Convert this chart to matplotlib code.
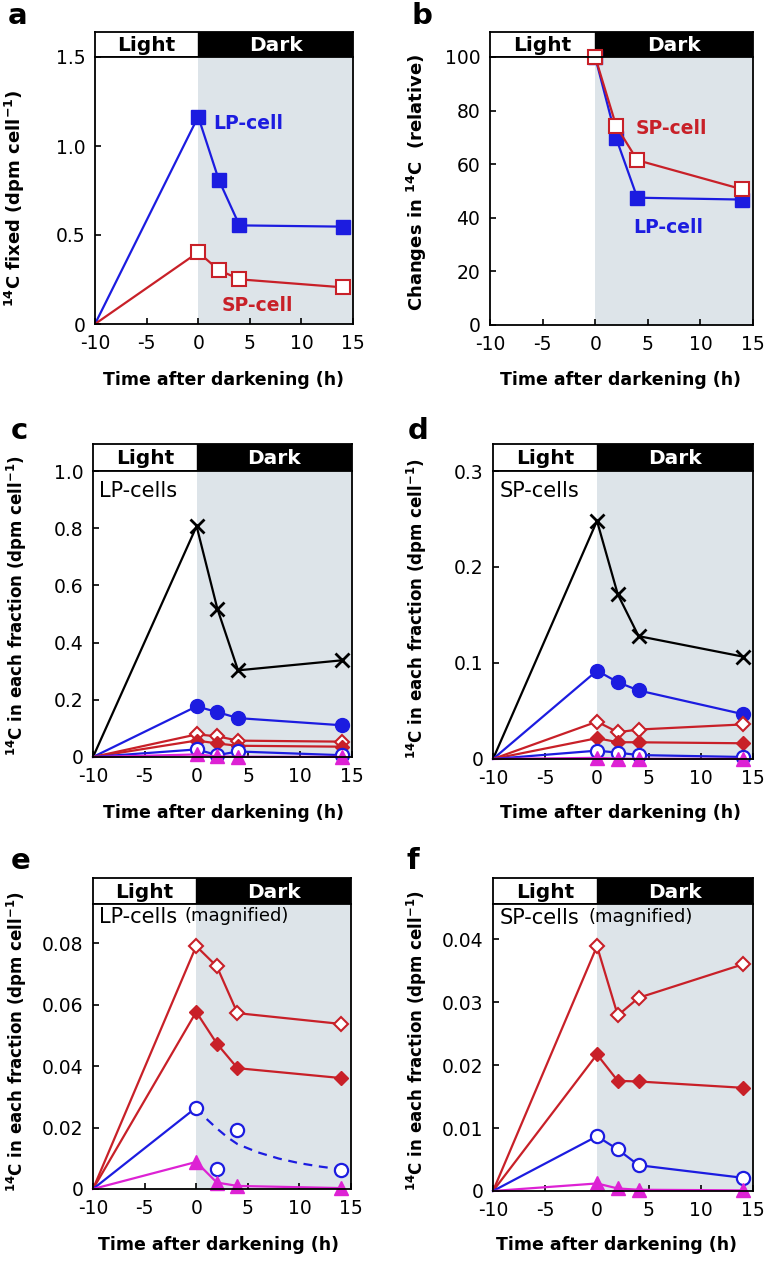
import matplotlib.pyplot as plt

plt.rcParams['font.family'] = ['DejaVu Sans']
plt.rcParams['mathtext.fontset'] = 'dejavusans'
plt.rcParams['axes.unicode_minus'] = False

W, H = 780, 1262

time_h = [-10, 0, 2, 4, 14]
time_rel = [0, 2, 4, 14]

# a: 14C fixed
fixed_lp = [0, 1.165, 0.809, 0.554, 0.547]
fixed_sp = [0, 0.403, 0.303, 0.251, 0.206]

# b: relative change
rel_lp = [100, 69.6, 47.5, 46.8]
rel_sp = [100, 74.2, 61.5, 50.6]

# c / e: LP-cells fractions
lp_cross = [0, 0.807, 0.519, 0.303, 0.338]
lp_fill_circle = [0, 0.177, 0.157, 0.136, 0.111]
lp_open_diamond = [0, 0.079, 0.0724, 0.0572, 0.0537]
lp_fill_diamond = [0, 0.0576, 0.0473, 0.0393, 0.0361]
lp_open_circle = [0, 0.0265, 0.0066, 0.0193, 0.0063]
lp_triangle = [0, 0.0088, 0.0021, 0.0010, 0.0003]
lp_fit_x = [0, 1, 2, 3, 4, 6, 8, 10, 12, 14]
lp_fit_y = [0.0265, 0.0228, 0.0197, 0.0169, 0.0146, 0.0119, 0.0099, 0.0084, 0.0073, 0.0064]

# d / f: SP-cells fractions
sp_cross = [0, 0.248, 0.1715, 0.128, 0.1067]
sp_fill_circle = [0, 0.092, 0.080, 0.0714, 0.0468]
sp_open_diamond = [0, 0.0389, 0.0279, 0.0307, 0.0360]
sp_fill_diamond = [0, 0.0217, 0.0175, 0.0174, 0.0164]
sp_open_circle = [0, 0.0087, 0.0066, 0.0041, 0.0021]
sp_triangle = [0, 0.0012, 0.0004, 0.0002, 0.0001]

BLUE = '#1c1ce0'
RED = '#c82028'
MAG = '#dd22d4'
SHADE = '#dde4e9'
SKIP0 = slice(1, None)  # no marker at the start point (-10 h)

fig = plt.figure(figsize=(W / 100, H / 100), dpi=100)


def px_axes(left, top, right, bottom):
    return fig.add_axes([left / W, 1 - bottom / H, (right - left) / W, (bottom - top) / H])


def fig_text(x, y, s, **kw):
    fig.text(x / W, 1 - y / H, s, **kw)


def make_panel(left, bartop, barbot, right, bottom, ymax, yticks, ylabels):
    bar = px_axes(left, bartop, right, barbot)
    bar.set_xlim(-10, 15)
    bar.set_ylim(0, 1)
    bar.axvspan(0, 15, color='black')
    bar.text(-5, 0.45, 'Light', ha='center', va='center', fontsize=14.5, fontweight='bold')
    bar.text(7.5, 0.45, 'Dark', ha='center', va='center', fontsize=14.5, fontweight='bold', color='white')
    bar.set_xticks([])
    bar.set_yticks([])
    for s in bar.spines.values():
        s.set_linewidth(1.3)

    ax = px_axes(left, barbot, right, bottom)
    ax.set_xlim(-10, 15)
    ax.set_ylim(0, ymax)
    ax.axvspan(0, 15, color=SHADE, zorder=0, lw=0)
    ax.set_xticks([-10, -5, 0, 5, 10, 15])
    ax.set_yticks(yticks)
    ax.set_yticklabels(ylabels)
    ax.tick_params(direction='in', length=4, width=1.2, labelsize=13.5, pad=7)
    for s in ax.spines.values():
        s.set_linewidth(1.3)
    return ax


XLAB = 'Time after darkening (h)'
YFRAC = r'$^{\mathbf{14}}$C in each fraction (dpm cell$^{\mathbf{-1}}$)'

# ---- a ----
ax = make_panel(95, 32, 57, 353, 324, 1.5, [0, 0.5, 1.0, 1.5], ['0', '0.5', '1.0', '1.5'])
ax.plot(time_h, fixed_lp, color=BLUE, lw=1.6, marker='s', ms=9.5, mfc=BLUE, mec=BLUE, markevery=SKIP0)
ax.plot(time_h, fixed_sp, color=RED, lw=1.6, marker='s', ms=9.5, mfc='white', mec=RED, mew=1.5, markevery=SKIP0)
ax.text(1.5, 1.125, 'LP-cell', color=BLUE, fontsize=13.5, fontweight='bold', va='center')
ax.text(2.3, 0.105, 'SP-cell', color=RED, fontsize=13.5, fontweight='bold', va='center')
fig_text(15, 198, r'$^{\mathbf{14}}$C fixed (dpm cell$^{\mathbf{-1}}$)', rotation=90, ha='center', va='center',
         fontsize=13, fontweight='bold')
fig_text(224, 380, XLAB, ha='center', va='center', fontsize=12.5, fontweight='bold')
fig_text(18, 16, 'a', ha='center', va='center', fontsize=21, fontweight='bold')

# ---- b ----
ax = make_panel(490, 32, 57, 753, 325, 100, [0, 20, 40, 60, 80, 100], ['0', '20', '40', '60', '80', '100'])
ax.plot(time_rel, rel_lp, color=BLUE, lw=1.6, marker='s', ms=9.5, mfc=BLUE, mec=BLUE, clip_on=False)
ax.plot(time_rel, rel_sp, color=RED, lw=1.6, marker='s', ms=9.5, mfc='white', mec=RED, mew=1.5, clip_on=False)
ax.text(3.8, 73.5, 'SP-cell', color=RED, fontsize=13.5, fontweight='bold', va='center')
ax.text(3.6, 36.5, 'LP-cell', color=BLUE, fontsize=13.5, fontweight='bold', va='center')
fig_text(417, 182, r'Changes in $^{\mathbf{14}}$C  (relative)', rotation=90, ha='center', va='center',
         fontsize=13, fontweight='bold')
fig_text(621, 380, XLAB, ha='center', va='center', fontsize=12.5, fontweight='bold')
fig_text(422, 16, 'b', ha='center', va='center', fontsize=21, fontweight='bold')


def fractions(ax, cross, fcirc, odia, fdia, ocirc, tri, fit=None):
    if cross is not None:
        ax.plot(time_h, cross, color='black', lw=1.6, marker='x', ms=10, mew=2, markevery=SKIP0)
    if fcirc is not None:
        ax.plot(time_h, fcirc, color=BLUE, lw=1.6, marker='o', ms=10, mfc=BLUE, mec=BLUE, markevery=SKIP0)
    ax.plot(time_h, odia, color=RED, lw=1.6, marker='D', ms=7, mfc='white', mec=RED, mew=1.5, markevery=SKIP0)
    ax.plot(time_h, fdia, color=RED, lw=1.6, marker='D', ms=7, mfc=RED, mec=RED, markevery=SKIP0)
    if fit is None:
        ax.plot(time_h, ocirc, color=BLUE, lw=1.6, marker='o', ms=9.5, mfc='white', mec=BLUE, mew=1.6,
                markevery=SKIP0, clip_on=False)
    else:
        ax.plot(time_h[:2], ocirc[:2], color=BLUE, lw=1.6)
        ax.plot(fit[0], fit[1], color=BLUE, lw=1.6, ls=(0, (4, 3)))
        ax.plot(time_h[1:], ocirc[1:], ls='none', marker='o', ms=9.5, mfc='white', mec=BLUE, mew=1.6,
                clip_on=False)
    ax.plot(time_h, tri, color=MAG, lw=1.6, marker='^', ms=9.5, mfc=MAG, mec=MAG, markevery=SKIP0,
            clip_on=False)


# ---- c ----
ax = make_panel(93, 444, 471, 352, 757, 1.0, [0, 0.2, 0.4, 0.6, 0.8, 1.0], ['0', '0.2', '0.4', '0.6', '0.8', '1.0'])
fractions(ax, lp_cross, lp_fill_circle, lp_open_diamond, lp_fill_diamond, lp_open_circle, lp_triangle)
ax.text(-9.4, 0.93, 'LP-cells', fontsize=15, va='center')
fig_text(17, 605, YFRAC, rotation=90, ha='center', va='center', fontsize=12, fontweight='bold')
fig_text(224, 813, XLAB, ha='center', va='center', fontsize=12.5, fontweight='bold')
fig_text(19, 431, 'c', ha='center', va='center', fontsize=21, fontweight='bold')

# ---- d ----
ax = make_panel(493, 444, 471, 753, 759, 0.3, [0, 0.1, 0.2, 0.3], ['0', '0.1', '0.2', '0.3'])
fractions(ax, sp_cross, sp_fill_circle, sp_open_diamond, sp_fill_diamond, sp_open_circle, sp_triangle)
ax.text(-9.4, 0.279, 'SP-cells', fontsize=15, va='center')
fig_text(417, 608, YFRAC, rotation=90, ha='center', va='center', fontsize=12, fontweight='bold')
fig_text(620, 813, XLAB, ha='center', va='center', fontsize=12.5, fontweight='bold')
fig_text(418, 431, 'd', ha='center', va='center', fontsize=21, fontweight='bold')

# ---- e ----
ax = make_panel(93, 878, 904, 351, 1189, 0.0927, [0, 0.02, 0.04, 0.06, 0.08], ['0', '0.02', '0.04', '0.06', '0.08'])
fractions(ax, None, None, lp_open_diamond, lp_fill_diamond, lp_open_circle, lp_triangle, fit=(lp_fit_x, lp_fit_y))
ax.text(-9.4, 0.0885, 'LP-cells', fontsize=15, va='center')
ax.text(-1.1, 0.0888, '(magnified)', fontsize=13, va='center')
fig_text(17, 1041, YFRAC, rotation=90, ha='center', va='center', fontsize=12, fontweight='bold')
fig_text(219, 1245, XLAB, ha='center', va='center', fontsize=12.5, fontweight='bold')
fig_text(21, 861, 'e', ha='center', va='center', fontsize=21, fontweight='bold')

# ---- f ----
ax = make_panel(493, 878, 904, 753, 1191, 0.0456, [0, 0.01, 0.02, 0.03, 0.04], ['0', '0.01', '0.02', '0.03', '0.04'])
fractions(ax, None, None, sp_open_diamond, sp_fill_diamond, sp_open_circle, sp_triangle)
ax.text(-9.4, 0.0433, 'SP-cells', fontsize=15, va='center')
ax.text(-0.8, 0.0435, '(magnified)', fontsize=13, va='center')
fig_text(417, 1040, YFRAC, rotation=90, ha='center', va='center', fontsize=12, fontweight='bold')
fig_text(616, 1245, XLAB, ha='center', va='center', fontsize=12.5, fontweight='bold')
fig_text(413, 861, 'f', ha='center', va='center', fontsize=21, fontweight='bold')

fig.savefig('out.png', dpi=100)
